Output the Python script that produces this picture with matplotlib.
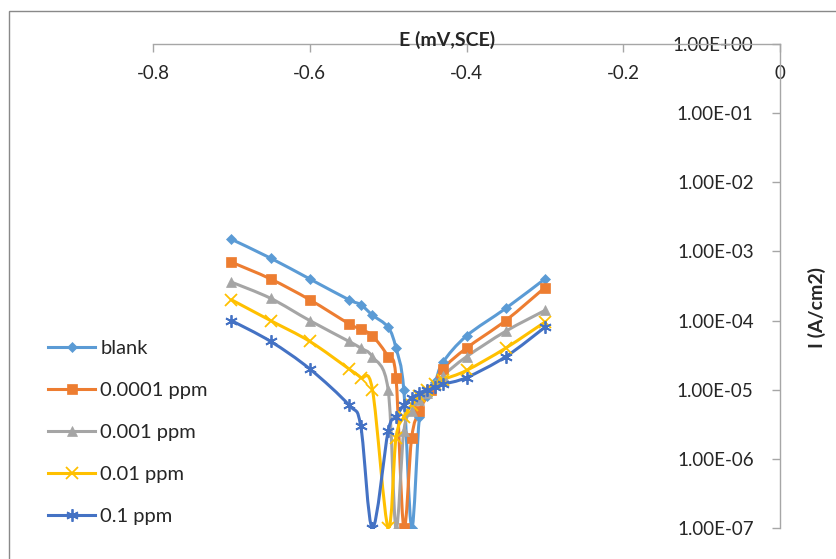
import numpy as np
import matplotlib
matplotlib.use("Agg")
import matplotlib.pyplot as plt
from matplotlib.path import Path
from matplotlib.patches import PathPatch, Rectangle
from matplotlib.lines import Line2D
from matplotlib.ticker import FixedLocator, FuncFormatter, NullLocator

plt.rcParams['font.family'] = ['Lato', 'DejaVu Sans']

labels = ["blank", "0.0001 ppm", "0.001 ppm", "0.01 ppm", "0.1 ppm"]

e_blank = [-0.70, -0.65, -0.60, -0.55, -0.535, -0.52, -0.50, -0.49, -0.48, -0.47,
           -0.46, -0.45, -0.44, -0.43, -0.40, -0.35, -0.30]
i_blank = [1.5e-3, 8e-4, 4e-4, 2e-4, 1.7e-4, 1.2e-4, 8e-5, 4e-5, 1e-5, 1e-7,
           4e-6, 8e-6, 1.3e-5, 2.5e-5, 6e-5, 1.5e-4, 4e-4]

e_p0001 = [-0.70, -0.65, -0.60, -0.55, -0.535, -0.52, -0.50, -0.49, -0.48, -0.47,
           -0.46, -0.445, -0.43, -0.40, -0.35, -0.30]
i_p0001 = [7e-4, 4e-4, 2e-4, 9e-5, 7.5e-5, 6e-5, 3e-5, 1.5e-5, 1e-7, 2e-6,
           5e-6, 1e-5, 2e-5, 4e-5, 1e-4, 3e-4]

e_p001 = [-0.70, -0.65, -0.60, -0.55, -0.535, -0.52, -0.50, -0.49, -0.48, -0.47,
          -0.46, -0.45, -0.44, -0.43, -0.40, -0.35, -0.30]
i_p001 = [3.6e-4, 2.1e-4, 1e-4, 5e-5, 4e-5, 3e-5, 1e-5, 1e-7, 2.5e-6, 5e-6,
          7e-6, 9e-6, 1.2e-5, 1.6e-5, 3e-5, 7e-5, 1.4e-4]

e_p01 = [-0.70, -0.65, -0.60, -0.55, -0.535, -0.52, -0.50, -0.49, -0.48, -0.47,
         -0.46, -0.45, -0.44, -0.43, -0.40, -0.35, -0.30]
i_p01 = [2e-4, 1e-4, 5e-5, 2e-5, 1.5e-5, 1e-5, 1e-7, 2e-6, 4e-6, 6e-6,
         8e-6, 1e-5, 1.2e-5, 1.4e-5, 1.9e-5, 4e-5, 9.5e-5]

e_p1 = [-0.70, -0.65, -0.60, -0.55, -0.535, -0.52, -0.50, -0.49, -0.48, -0.47,
        -0.46, -0.45, -0.44, -0.43, -0.40, -0.35, -0.30]
i_p1 = [1e-4, 5e-5, 2e-5, 6e-6, 3e-6, 1e-7, 2.5e-6, 4e-6, 6e-6, 7.5e-6,
        9e-6, 1e-5, 1.1e-5, 1.2e-5, 1.5e-5, 3e-5, 8e-5]

series_e = [e_blank, e_p0001, e_p001, e_p01, e_p1]
series_i = [i_blank, i_p0001, i_p001, i_p01, i_p1]

colors = ["#5B9BD5", "#ED7D31", "#A5A5A5", "#FFC000", "#4472C4"]
markers = ["D", "s", "^", "x", (6, 2, 0)]
msizes = [5, 6.5, 6.5, 8, 9]

xticks = [-0.8, -0.6, -0.4, -0.2, 0.0]
yticks = [1e-7, 1e-6, 1e-5, 1e-4, 1e-3, 1e-2, 1e-1, 1e0]

W, H = 836, 559
fig = plt.figure(figsize=(W / 100, H / 100), dpi=100)
fig.patches.append(Rectangle((9 / W, -0.1), 2.0, (H - 11) / H + 0.1,
                             transform=fig.transFigure, fill=False,
                             edgecolor="#898989", linewidth=1.0))

ax = fig.add_axes([153 / W, 1 - 528 / H, (780 - 153) / W, (528 - 44) / H])
ax.set_facecolor("none")
ax.set_xlim(-0.8, 0.0)
ax.set_yscale("log")
ax.set_ylim(1e-7, 1e0)


def smooth_path(xs, ys):
    lx = np.asarray(xs, float)
    ly = np.log10(np.asarray(ys, float))
    pts = np.column_stack([lx, ly])
    n = len(pts)
    verts = [pts[0]]
    codes = [Path.MOVETO]
    for k in range(n - 1):
        p0 = pts[k - 1] if k > 0 else pts[k]
        p1 = pts[k]
        p2 = pts[k + 1]
        p3 = pts[k + 2] if k + 2 < n else pts[k + 1]
        c1 = p1 + (p2 - p0) / 6.0
        c2 = p2 - (p3 - p1) / 6.0
        verts += [c1, c2, p2]
        codes += [Path.CURVE4] * 3
    v = np.array(verts)
    v[:, 1] = 10 ** v[:, 1]
    return Path(v, codes)


handles = []
for xs, ys, c, m, ms, lab in zip(series_e, series_i, colors, markers, msizes, labels):
    patch = PathPatch(smooth_path(xs, ys), facecolor="none", edgecolor=c,
                      linewidth=2.2, zorder=2, capstyle="round", joinstyle="round")
    ax.add_patch(patch)
    mew = 1.3 if m in ("x",) or isinstance(m, tuple) else 0.5
    ax.plot(xs, ys, linestyle="none", marker=m, markersize=ms, color=c,
            markeredgecolor=c, markeredgewidth=mew, zorder=3)
    handles.append(Line2D([], [], color=c, linewidth=2.2, marker=m, markersize=ms,
                          markeredgecolor=c, markeredgewidth=mew, label=lab))

for s in ["right", "top"]:
    ax.spines[s].set_visible(False)
ax.spines["left"].set_position(("axes", 1.0))
ax.spines["bottom"].set_position(("axes", 1.0))
for s in ["left", "bottom"]:
    ax.spines[s].set_color("#A6A6A6")
    ax.spines[s].set_linewidth(1.0)

ax.xaxis.set_major_locator(FixedLocator(xticks))
ax.xaxis.set_major_formatter(FuncFormatter(lambda v, p: "0" if abs(v) < 1e-9 else f"{v:g}"))
ax.yaxis.set_major_locator(FixedLocator(yticks))
ax.yaxis.set_minor_locator(NullLocator())
ax.yaxis.set_major_formatter(FuncFormatter(lambda v, p: f"{v:.2E}"))
ax.tick_params(axis="both", which="major", direction="out", length=6,
               width=1.0, color="#A6A6A6", labelcolor="#262626", labelsize=13.5)
ax.tick_params(axis="x", pad=9)
ax.tick_params(axis="y", pad=13)

fig.text(447 / W, 1 - 40 / H, "E (mV,SCE)", ha="center", va="center",
         fontsize=14, fontweight="bold", color="#262626")
fig.text(817 / W, 1 - 308 / H, "I (A/cm2)", ha="center", va="center",
         rotation=90, fontsize=14, fontweight="bold", color="#262626")

fig.legend(handles=handles, loc="upper left", bbox_to_anchor=(40 / W, 1 - 332 / H),
           frameon=False, fontsize=14.5, handlelength=2.35, handletextpad=0.25,
           labelspacing=1.23, borderaxespad=0, labelcolor="#262626")

fig.savefig("out.png", dpi=100)
